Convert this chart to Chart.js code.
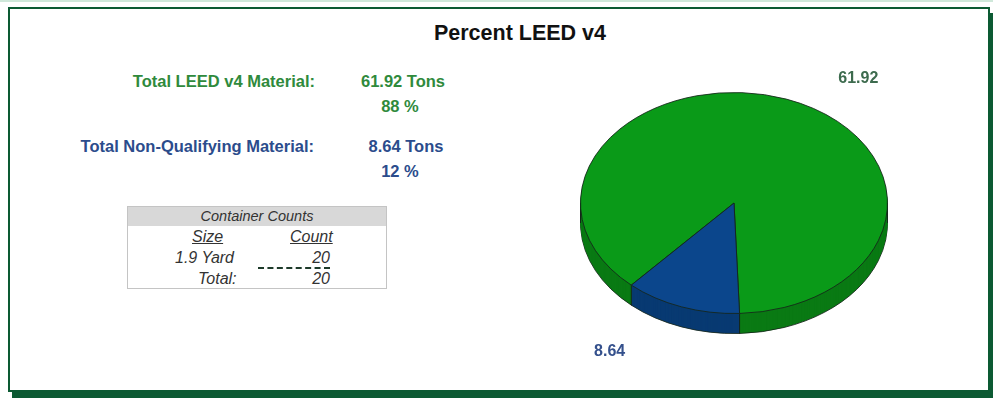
<!DOCTYPE html>
<html>
<head>
<meta charset="utf-8">
<script src="https://cdn.jsdelivr.net/npm/chart.js@4.4.1/dist/chart.umd.min.js"></script>
<style>
    body { margin: 0; background: #fff; font-family: Arial, "Liberation Sans", sans-serif; }
    .topline { position: absolute; left: 0; top: 0; width: 993px; height: 2px; background: #cfe8da; }
    .frame {
        position: absolute; left: 8px; top: 7px; width: 978px; height: 381px;
        border: 2px solid #0c5a33; box-shadow: 4px 6px 0 #0c5a33; background: #fff;
    }
    .title { position: absolute; left: 0; top: 21px; width: 1040px; text-align: center; font-size: 21.5px; font-weight: bold; color: #111; }
    .lbl { position: absolute; font-size: 16.5px; font-weight: bold; white-space: nowrap; }
    .green { color: #2f8a3c; }
    .blue { color: #2b4c8c; }
    .r { text-align: right; }
    .c { text-align: center; }
    .box { position: absolute; left: 127px; top: 206px; width: 258px; height: 81px; border: 1px solid #c4c4c4; background: #fff; font-style: italic; color: #333; }
    .box .head { height: 19px; background: #d8d8d8; text-align: center; font-size: 14.5px; line-height: 19px; }
    .cell { position: absolute; font-size: 16px; white-space: nowrap; }
    #pieWrap { position: absolute; left: 564px; top: 33px; width: 340px; height: 340px; }
</style>
</head>
<body>
<div class="topline"></div>
<div class="frame"></div>
<div class="title">Percent LEED v4</div>

<div class="lbl green r" id="leedLabel" style="left:60px; top:72px; width:255px;"></div>
<div class="lbl green c" id="leedTons" style="left:343px; top:72px; width:120px;"></div>
<div class="lbl green c" id="leedPct" style="left:340px; top:97px; width:120px;"></div>
<div class="lbl blue r" id="nonLabel" style="left:20px; top:137px; width:294px;"></div>
<div class="lbl blue c" id="nonTons" style="left:346px; top:137px; width:120px;"></div>
<div class="lbl blue c" id="nonPct" style="left:340px; top:162px; width:120px;"></div>

<div class="box">
    <div class="head">Container Counts</div>
    <div class="cell" style="left:64px; top:21px; text-decoration:underline;">Size</div>
    <div class="cell" style="left:162px; top:21px; text-decoration:underline;">Count</div>
    <div class="cell" style="left:47px; top:42px;" id="sizeCell"></div>
    <div class="cell r" style="left:150px; top:42px; width:52px;" id="countCell"></div>
    <div style="position:absolute; left:130px; top:60px; width:72px; border-top:2px dashed #1d3a2a;"></div>
    <div class="cell" style="left:70px; top:63px;">Total:</div>
    <div class="cell r" style="left:150px; top:63px; width:52px;" id="totalCell"></div>
</div>

<div id="pieWrap"><canvas id="pieChart"></canvas></div>

<script>
const categories = ['Total LEED v4 Material', 'Total Non-Qualifying Material'];
const tons = [61.92, 8.64];
const percents = [88, 12];
const containerSizes = ['1.9 Yard'];
const containerCounts = [20];

const topColors = ['#0a9a18', '#0b468c'];
const sideColors = ['#0a7a14', '#083a72'];
const labelColors = ['#3d6b4e', '#34508c'];
const DEPTH = 20;
const TILT = 0.72;

document.addEventListener('DOMContentLoaded', function() {
    // text block
    document.getElementById('leedLabel').textContent = categories[0] + ':';
    document.getElementById('leedTons').textContent = tons[0].toFixed(2) + ' Tons';
    document.getElementById('leedPct').textContent = percents[0] + ' %';
    document.getElementById('nonLabel').textContent = categories[1] + ':';
    document.getElementById('nonTons').textContent = tons[1].toFixed(2) + ' Tons';
    document.getElementById('nonPct').textContent = percents[1] + ' %';
    document.getElementById('sizeCell').textContent = containerSizes[0];
    document.getElementById('countCell').textContent = containerCounts[0];
    document.getElementById('totalCell').textContent = containerCounts.reduce((a, b) => a + b, 0);

    // squash the pie and give it a side wall
    const tiltPlugin = {
        id: 'tilt',
        beforeDatasetsDraw(chart) {
            const ctx = chart.ctx;
            const meta = chart.getDatasetMeta(0);
            const cx = meta.data[0].x, cy = meta.data[0].y;
            for (let d = DEPTH; d >= 1; d--) {
                ctx.save();
                ctx.translate(cx, cy + d);
                ctx.scale(1, TILT);
                ctx.translate(-cx, -cy);
                meta.data.forEach(function(arc, i) {
                    const o = arc.options;
                    const bg = o.backgroundColor, bc = o.borderColor, bw = o.borderWidth;
                    o.backgroundColor = sideColors[i];
                    o.borderColor = '#15251a';
                    o.borderWidth = d === DEPTH ? 1 : 0;
                    arc.draw(ctx);
                    o.backgroundColor = bg; o.borderColor = bc; o.borderWidth = bw;
                });
                ctx.restore();
            }
            // vertical edges on the front of the wall
            const r = meta.data[0].outerRadius;
            ctx.save();
            ctx.strokeStyle = '#15251a';
            ctx.lineWidth = 1;
            const edges = [0, Math.PI];
            meta.data.forEach(function(arc) { edges.push(arc.startAngle); });
            edges.forEach(function(a) {
                if (Math.sin(a) < -0.001) return;
                const x = cx + r * Math.cos(a);
                const y = cy + r * TILT * Math.sin(a);
                ctx.beginPath();
                ctx.moveTo(x, y);
                ctx.lineTo(x, y + DEPTH);
                ctx.stroke();
            });
            ctx.restore();

            ctx.save();
            ctx.translate(cx, cy);
            ctx.scale(1, TILT);
            ctx.translate(-cx, -cy);
        },
        afterDatasetsDraw(chart) {
            const ctx = chart.ctx;
            ctx.restore();
            const meta = chart.getDatasetMeta(0);
            const cx = meta.data[0].x, cy = meta.data[0].y, r = meta.data[0].outerRadius;
            ctx.save();
            ctx.font = 'bold 16px Arial, "Liberation Sans", sans-serif';
            ctx.textAlign = 'center';
            ctx.textBaseline = 'middle';
            ctx.fillStyle = labelColors[0];
            ctx.fillText(tons[0].toFixed(2), cx + 0.81 * r, cy - 0.81 * r);
            ctx.fillStyle = labelColors[1];
            ctx.fillText(tons[1].toFixed(2), cx - 0.81 * r, cy + 0.97 * r);
            ctx.restore();
        }
    };

    const ctx = document.getElementById('pieChart').getContext('2d');
    new Chart(ctx, {
        type: 'pie',
        data: {
            labels: categories,
            datasets: [{
                data: tons,
                backgroundColor: topColors,
                borderColor: '#15251a',
                borderWidth: 1
            }]
        },
        options: {
            responsive: true,
            maintainAspectRatio: false,
            animation: false,
            events: [],
            rotation: 222,
            layout: { padding: 16 },
            plugins: {
                legend: { display: false },
                tooltip: { enabled: false }
            }
        },
        plugins: [tiltPlugin]
    });
});
</script>
</body>
</html>
